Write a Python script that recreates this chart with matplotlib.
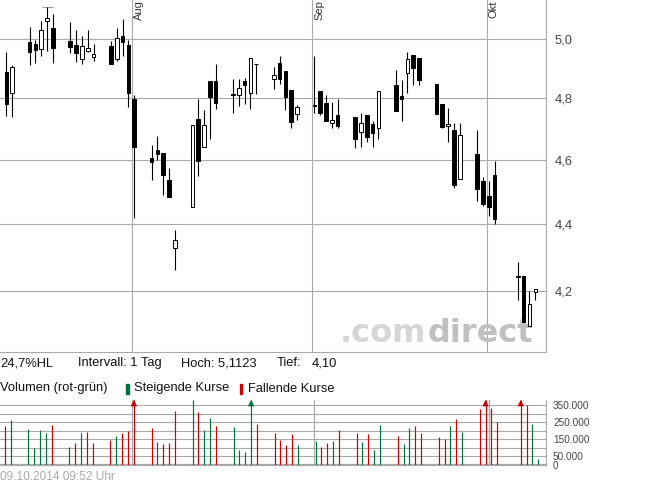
import numpy as np
import pandas as pd
import matplotlib
matplotlib.use("Agg")
import matplotlib.pyplot as plt
import matplotlib.dates as mdates
from matplotlib.patches import Rectangle
from matplotlib.ticker import NullLocator

plt.rcParams['font.family'] = ['Liberation Sans', 'DejaVu Sans']

# trading days 10.07.2014 - 09.10.2014 (03.10. holiday)
days = pd.bdate_range('2014-07-10', '2014-10-09')
days = days[days != pd.Timestamp('2014-10-03')]

opens = [4.887, 4.816, 4.990, 4.984, 4.965, 5.062, 5.037, 4.993, 4.979, 4.933,
         4.960, 4.937, 4.976, 4.933, 5.010, 4.979, 4.796, 4.605, 4.631, 4.620,
         4.536, 4.327, 4.451, 4.731, 4.641, 4.855, 4.855, 4.813, 4.811, 4.855,
         4.816, 4.915, 4.865, 4.918, 4.891, 4.827, 4.747, 4.775, 4.824, 4.784,
         4.717, 4.744, 4.736, 4.688, 4.744, 4.714, 4.700, 4.842, 4.806, 4.885,
         4.945, 4.934, 4.846, 4.781, 4.709, 4.695, 4.538, 4.618, 4.531, 4.486,
         4.549, 4.243, 4.244, 4.100, 4.198]
highs = [4.955, 4.910, 5.042, 4.997, 5.063, 5.1123, 5.087, 5.059, 5.031, 5.010,
         5.031, 4.983, 4.993, 5.038, 5.070, 4.997, 4.809, 4.647, 4.676, 4.620,
         4.572, 4.380, 4.712, 4.797, 4.760, 4.855, 4.914, 4.864, 4.864, 4.867,
         4.935, 4.915, 4.905, 4.942, 4.891, 4.827, 4.776, 4.942, 4.824, 4.810,
         4.787, 4.797, 4.736, 4.751, 4.744, 4.723, 4.824, 4.894, 4.860, 4.956,
         4.945, 4.934, 4.846, 4.781, 4.768, 4.718, 4.719, 4.695, 4.546, 4.531,
         4.596, 4.286, 4.244, 4.200, 4.206]
lows = [4.741, 4.737, 4.912, 4.919, 4.943, 4.960, 4.917, 4.953, 4.922, 4.916,
        4.955, 4.924, 4.914, 4.925, 4.940, 4.771, 4.417, 4.536, 4.598, 4.489,
        4.481, 4.262, 4.450, 4.549, 4.641, 4.665, 4.765, 4.750, 4.774, 4.781,
        4.763, 4.812, 4.829, 4.846, 4.762, 4.700, 4.729, 4.750, 4.744, 4.723,
        4.700, 4.703, 4.636, 4.640, 4.657, 4.640, 4.665, 4.757, 4.723, 4.818,
        4.843, 4.845, 4.746, 4.700, 4.655, 4.510, 4.538, 4.469, 4.455, 4.425,
        4.400, 4.174, 4.110, 4.100, 4.174]
closes = [4.779, 4.904, 4.956, 4.961, 5.031, 5.072, 4.970, 4.972, 4.951, 4.975,
          4.968, 4.947, 4.916, 5.002, 4.991, 4.818, 4.640, 4.591, 4.618, 4.550,
          4.481, 4.350, 4.710, 4.594, 4.710, 4.805, 4.785, 4.810, 4.834, 4.845,
          4.933, 4.914, 4.876, 4.862, 4.805, 4.720, 4.770, 4.776, 4.750, 4.723,
          4.728, 4.709, 4.666, 4.717, 4.672, 4.685, 4.824, 4.757, 4.798, 4.930,
          4.900, 4.860, 4.746, 4.705, 4.714, 4.521, 4.679, 4.507, 4.461, 4.451,
          4.416, 4.242, 4.110, 4.163, 4.206]
volumes = [229000, 262000, 210000, 101000, 204000, 187000, 233000, 105000, 130000, 187000,
           193000, 130000, 148000, 171000, 187000, 200000, 520000, 216000, 134000, 124000,
           130000, 317000, 378000, 309000, 204000, 274000, 228000, 222000, 88000, 76000,
           450000, 239000, 187000, 146000, 118000, 181000, 117000, 140000, 105000, 130000,
           140000, 204000, 188000, 136000, 181000, 88000, 233000, 169000, 123000, 214000,
           228000, 188000, 162000, 150000, 228000, 268000, 194000, 327000, 420000, 331000,
           251000, 440000, 350000, 239000, 35000]

price_ticks = [4.2, 4.4, 4.6, 4.8, 5.0]
vol_ticks = [0, 50000, 100000, 150000, 200000, 250000, 300000, 350000]
vol_labels = ['0', '50.000', '', '150.000', '', '250.000', '', '350.000']
months = ['2014-08-01', '2014-09-01', '2014-10-01']
month_names = ['Aug', 'Sep', 'Okt']

W, H = 645, 483
def fx(x): return x / W
def fy(y): return 1 - y / H

grid_c = '#a9a9a9'
green = '#00703c'
red = '#cc0000'

o = np.array(opens); c = np.array(closes)
hi = np.array(highs); lo = np.array(lows)
vol = np.array(volumes)
x = mdates.date2num(days) + 0.35
t_aug = mdates.date2num(pd.Timestamp(months[0]))
prev = np.concatenate([[o[0]], c[:-1]])
rising = c >= prev

fig = plt.figure(figsize=(W / 100, H / 100), dpi=100)
ax = fig.add_axes([0, fy(352), 546 / W, 352 / H])
av = fig.add_axes([0, fy(465), 546 / W, 65 / H])

# price chart
ax.set_yscale('log')
ax.set_ylim(4.0263, 5.137)
ax.set_xlim(t_aug - 22.74, t_aug + 71.19)
ax.yaxis.set_minor_locator(NullLocator())
ax.set_yticks(price_ticks)
ax.set_yticklabels([f'{v:.1f}'.replace('.', ',') for v in price_ticks])
ax.yaxis.tick_right()
ax.tick_params(axis='y', length=0, pad=6, labelsize=9.3, labelcolor='#444444')
ax.set_xticks([])
ax.grid(axis='y', color=grid_c, lw=0.8)
for m in months:
    ax.axvline(mdates.date2num(pd.Timestamp(m)), color=grid_c, lw=0.8, zorder=1)
for s in ['top', 'left']:
    ax.spines[s].set_visible(False)
for s in ['right', 'bottom']:
    ax.spines[s].set_color(grid_c)
    ax.spines[s].set_linewidth(0.8)

ax.text(426 / 546, 1 - 341.7 / 352, '.com', transform=ax.transAxes, fontsize=23,
        family='DejaVu Sans', weight='bold', color='#d6d6d6', va='baseline', ha='right',
        zorder=1.5)
ax.text(428 / 546, 1 - 341.7 / 352, 'direct', transform=ax.transAxes, fontsize=23,
        family='DejaVu Sans', weight='bold', color='#c0c0c0', va='baseline', zorder=1.5)

up = c >= o
ax.vlines(x, lo, hi, color='black', lw=0.8, zorder=3)
ax.bar(x, np.abs(c - o) + 0.0005, width=0.62, bottom=np.minimum(o, c),
       color=np.where(up, 'white', 'black'), edgecolor='black', lw=0.7, zorder=4)
k = int(np.argmax(hi))
ax.hlines(hi[k], x[k] - 0.95, x[k] + 0.95, color='#999999', lw=0.8, zorder=2)

# volume chart
vmax = 379000
av.set_xlim(t_aug - 22.5, t_aug + 70.66)
av.set_ylim(0, vmax)
av.set_yticks(vol_ticks)
av.set_yticklabels(vol_labels)
av.yaxis.tick_right()
av.tick_params(axis='y', length=0, pad=5, labelsize=7.2, labelcolor='#444444')
av.set_xticks([])
av.grid(axis='y', color=grid_c, lw=0.8)
for m in months:
    av.axvline(mdates.date2num(pd.Timestamp(m)), color=grid_c, lw=0.8, zorder=1)
for s in ['top', 'left']:
    av.spines[s].set_visible(False)
av.spines['right'].set_color(grid_c)
av.spines['right'].set_linewidth(0.8)
av.spines['bottom'].set_color(grid_c)
av.spines['bottom'].set_linewidth(1.6)
vcol = np.where(rising, green, red)
av.vlines(x, 0, np.minimum(vol, vmax), colors=vcol, lw=0.85, zorder=3)
over = vol > vmax
av.scatter(x[over], np.full(over.sum(), 361000), marker='^', s=22, c=vcol[over],
           linewidths=0, clip_on=False, zorder=4)

# month labels
for m, name in zip(months, month_names):
    px = ax.transData.transform((mdates.date2num(pd.Timestamp(m)), 5.0))[0]
    fig.text(px / W + 2 / W, fy(0.5), name, rotation=90, ha='left', va='top',
             fontsize=8, color='#333333')

# info rows
fs = 9.3
fig.text(fx(0), fy(363), '24,7%HL', fontsize=fs, va='center', color='#111111')
fig.text(fx(78), fy(363), 'Intervall: 1 Tag', fontsize=fs, va='center', color='#111111')
fig.text(fx(181), fy(363), 'Hoch: 5,1123', fontsize=fs, va='center', color='#111111')
fig.text(fx(277), fy(363), 'Tief:', fontsize=fs, va='center', color='#111111')
fig.text(fx(312), fy(363), '4,10', fontsize=fs, va='center', color='#111111')

fig.text(fx(0), fy(388.5), 'Volumen (rot-grün)', fontsize=fs, va='center', color='#111111')
fig.add_artist(Rectangle((fx(126), fy(393.5)), 2.7 / W, 10 / H, color=green,
                         transform=fig.transFigure))
fig.text(fx(134.5), fy(388.5), 'Steigende Kurse', fontsize=fs, va='center', color='#111111')
fig.add_artist(Rectangle((fx(239.5), fy(393.5)), 2.7 / W, 10 / H, color=red,
                         transform=fig.transFigure))
fig.text(fx(247.5), fy(388.5), 'Fallende Kurse', fontsize=fs, va='center', color='#111111')

fig.text(fx(0), fy(477), '09.10.2014 09:52 Uhr', fontsize=8.6, va='center', color='#aaaaaa')

fig.savefig('out.png', dpi=100)
